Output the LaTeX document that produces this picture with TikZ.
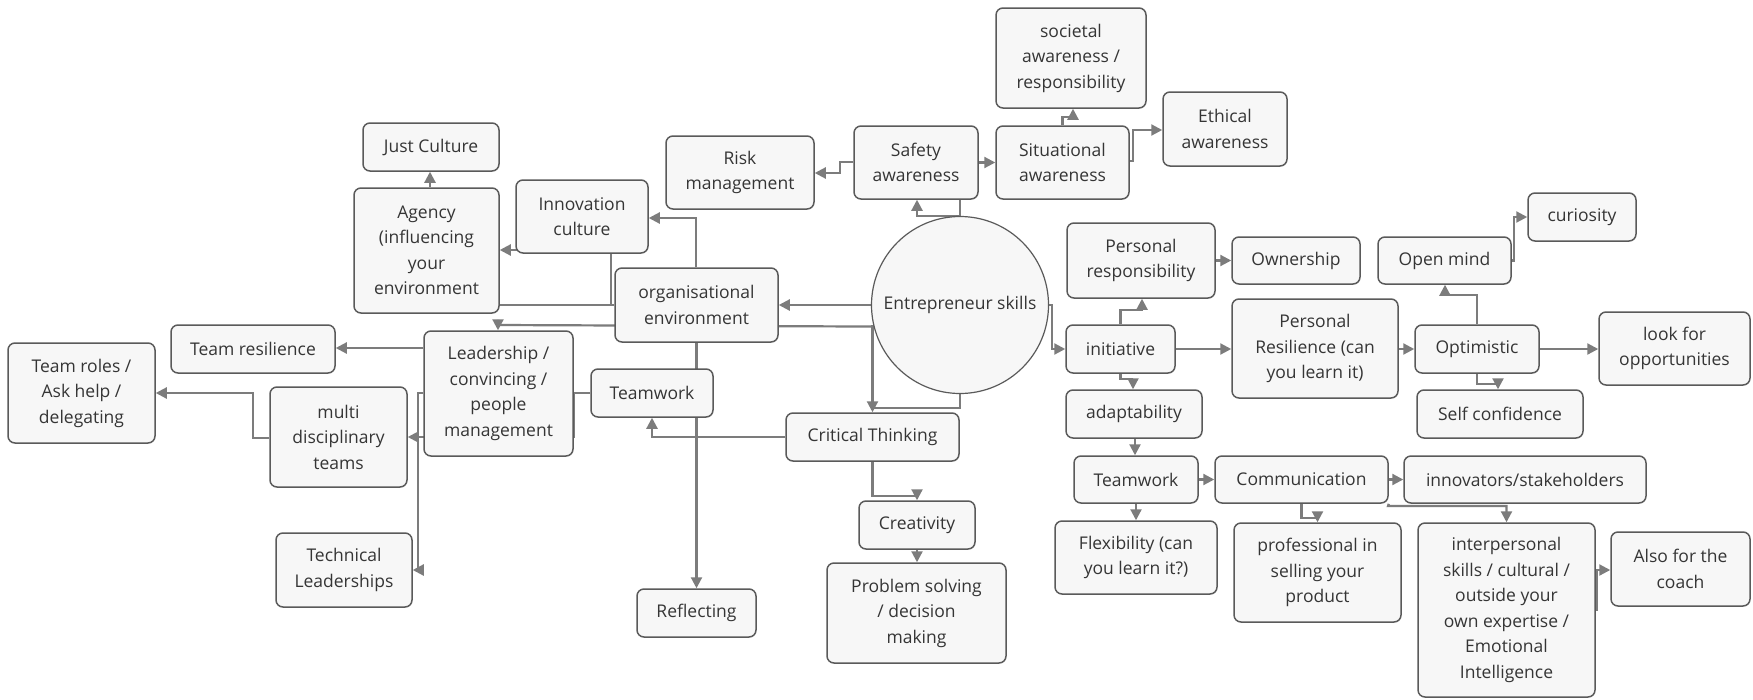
\documentclass[tikz,border=0pt]{standalone}
\usepackage{fontspec}
\setmainfont{Open Sans}
\usetikzlibrary{arrows.meta}
\definecolor{boxfill}{HTML}{F7F7F7}
\definecolor{boxborder}{HTML}{5A5A5A}
\definecolor{lin}{HTML}{7C7C7C}
\definecolor{txt}{HTML}{353535}
\pgfdeclarelayer{bg}
\pgfsetlayers{bg,main}
\newcommand\fsz{\fontsize{17.5}{25.5}\selectfont}
\newcommand\mybox[6]{\node[box,minimum width=#4pt,minimum height=#5pt] (#1) at (#2,#3) {#6};}
\tikzset{
  box/.style={draw=boxborder, fill=boxfill, line width=1.5pt, rounded corners=7pt, inner sep=0pt, align=center, text=txt, font=\fsz},
  conn/.style={draw=lin, line width=2.2pt},
  arr/.style={conn, -{Triangle[length=11pt,width=11pt]}},
}
\begin{document}
\begin{tikzpicture}[x=1pt,y=-1pt]
\useasboundingbox (0,0) rectangle (1753,699);
% left part
\mybox{JC}{431}{147}{136}{48}{Just Culture}
\mybox{AG}{426.5}{250.5}{145}{125}{Agency\\(influencing\\your\\environment}
\mybox{IC}{582}{216.5}{132}{73}{Innovation\\culture}
\mybox{TR}{253}{349}{164}{48}{Team resilience}
\mybox{TRO}{81.5}{393}{147}{100}{Team roles /\\Ask help /\\delegating}
\mybox{MD}{338.5}{437}{137}{100}{multi\\disciplinary\\teams}
\mybox{LD}{498.5}{393.5}{149}{125}{Leadership /\\convincing /\\people\\management}
\mybox{TL}{344}{570}{136}{74}{Technical\\Leaderships}
\mybox{ORG}{696.5}{305}{163}{74}{organisational\\environment}
\mybox{TWA}{652}{393}{122}{48}{Teamwork}
\mybox{REF}{696.5}{613}{119}{48}{Reflecting}
\mybox{CT}{872.5}{437}{173}{48}{Critical Thinking}
\mybox{CR}{917}{525}{116}{48}{Creativity}
\mybox{PS}{916.5}{613}{179}{100}{Problem solving\\/ decision\\making}
% top
\mybox{RM}{740}{172.5}{148}{73}{Risk\\management}
\mybox{SA}{916}{162.5}{124}{73}{Safety\\awareness}
\mybox{SIT}{1062.5}{162.5}{133}{73}{Situational\\awareness}
\mybox{SOC}{1071}{58}{150}{100}{societal\\awareness /\\responsibility}
\mybox{ETH}{1225}{129}{124}{74}{Ethical\\awareness}
\node[circle, draw=boxborder, fill=boxfill, line width=1.2pt, minimum size=177pt, inner sep=0pt, font=\fsz, text=txt] (ES) at (960,305) {Entrepreneur skills};
% right part
\mybox{PR}{1141}{260.5}{148}{75}{Personal\\responsibility}
\mybox{OWN}{1296}{260.5}{128}{47}{Ownership}
\mybox{OM}{1444.5}{260.5}{133}{47}{Open mind}
\mybox{CUR}{1582}{217}{108}{48}{curiosity}
\mybox{INI}{1120.5}{349}{109}{48}{initiative}
\mybox{PRES}{1315}{348.5}{166}{99}{Personal\\Resilience (can\\you learn it)}
\mybox{OPT}{1477}{349}{124}{48}{Optimistic}
\mybox{LFO}{1674.5}{348.5}{151}{73}{look for\\opportunities}
\mybox{ADA}{1134}{414}{136}{48}{adaptability}
\mybox{SC}{1500}{414}{166}{48}{Self confidence}
\mybox{TWB}{1136}{479.5}{124}{47}{Teamwork}
\mybox{COM}{1301.5}{479.5}{173}{47}{Communication}
\mybox{INN}{1525}{479.5}{242}{47}{innovators/stakeholders}
\mybox{FLX}{1136}{557.5}{162}{73}{Flexibility (can\\you learn it?)}
\mybox{PRO}{1317.5}{572.5}{167}{99}{professional in\\selling your\\product}
\mybox{INT}{1506.5}{610}{177}{174}{interpersonal\\skills / cultural /\\outside your\\own expertise /\\Emotional\\Intelligence}
\mybox{ALSO}{1680.5}{569}{139}{74}{Also for the\\coach}

\begin{pgfonlayer}{bg}
\fill[white] (0,0) rectangle (1753,699);
% centre top
\draw[arr] (ES.north) -| (SA.south -| 917,0);
\draw[conn] (SA.south -| ES.north) -- (ES.north);
\draw[arr] (SA.west |- 0,162) -- (840,162) -- (840,173) -- (RM.east |- 0,173);
\draw[arr] (SA.east) -- (SIT.west);
\draw[arr] (SIT.north) -- (1062.5,117) -- (1073,117) -- (SOC.south -| 1073,0);
\draw[arr] (SIT.east |- 0,161) -- (1133,161) -- (1133,130) -- (ETH.west |- 0,130);
% centre left
\draw[arr] (ES.west) -- (ORG.east);
\draw[arr] (ES.194) -- (498,325) -- (LD.north -| 498,0);
\draw[arr] (ORG.north -| 696,0) -- (696,218) -- (IC.east |- 0,218);
\draw[conn] (ORG.west) -- (AG.east |- 0,305);
\draw[arr] (611,305) -- (611,250) -- (AG.east |- 0,250);
\draw[arr] (AG.north -| 430,0) -- (JC.south -| 430,0);
\draw[arr] (LD.west |- 0,348) -- (TR.east |- 0,348);
\draw[arr] (TWA.west) -- (574,393) -- (574,437) -- (MD.east |- 0,437);
\draw[arr] (LD.west |- 0,393) -- (418,393) -- (418,570) -- (TL.east |- 0,570);
\draw[arr] (MD.west |- 0,438) -- (253,438) -- (253,393) -- (TRO.east |- 0,393);
\draw[arr] (ORG.south) -- (REF.north);
\draw[arr] (CT.west |- 0,437) -- (652,437) -- (TWA.south);
\draw[arr] (ES.194) -| (CT.north);
\draw[conn] (ES.south) |- (872.5,408);
\draw[arr] (CT.south) -- (872.5,496) -- (917,496) -- (CR.north);
\draw[arr] (CR.south) -- (CR.south |- PS.north);
% right
\draw[arr] (ES.east) -- (1052,305) -- (1052,349) -- (INI.west);
\draw[arr] (INI.north) -- (1120.5,310) -- (1142,310) -- (PR.south -| 1142,0);
\draw[arr] (INI.south) -- (1120.5,379) -- (1133,379) -- (ADA.north -| 1133,0);
\draw[arr] (INI.east) -- (PRES.west |- INI.east);
\draw[arr] (PR.east) -- (OWN.west);
\draw[arr] (PRES.east |- OPT.west) -- (OPT.west);
\draw[arr] (OPT.north) -- (1477,295) -- (1445,295) -- (OM.south -| 1445,0);
\draw[arr] (OPT.south) -- (1477,384) -- (1498,384) -- (SC.north -| 1498,0);
\draw[arr] (OPT.east) -- (LFO.west |- OPT.east);
\draw[arr] (OM.east) -- (1514,260.5) -- (1514,217) -- (CUR.west);
\draw[arr] (ADA.south -| 1135,0) -- (TWB.north -| 1135,0);
\draw[arr] (TWB.east) -- (COM.west);
\draw[arr] (TWB.south) -- (FLX.north);
\draw[arr] (COM.south) -- (1301.5,518) -- (1317.5,518) -- (PRO.north);
\draw[arr] (COM.east) -- (INN.west);
\draw[arr] (COM.south east) -- (1388,506) -- (1506.5,506) -- (INT.north);
\draw[arr] (INT.east |- 0,610) -- (1597,610) -- (1597,570) -- (ALSO.west |- 0,570);
\end{pgfonlayer}
\end{tikzpicture}
\end{document}
